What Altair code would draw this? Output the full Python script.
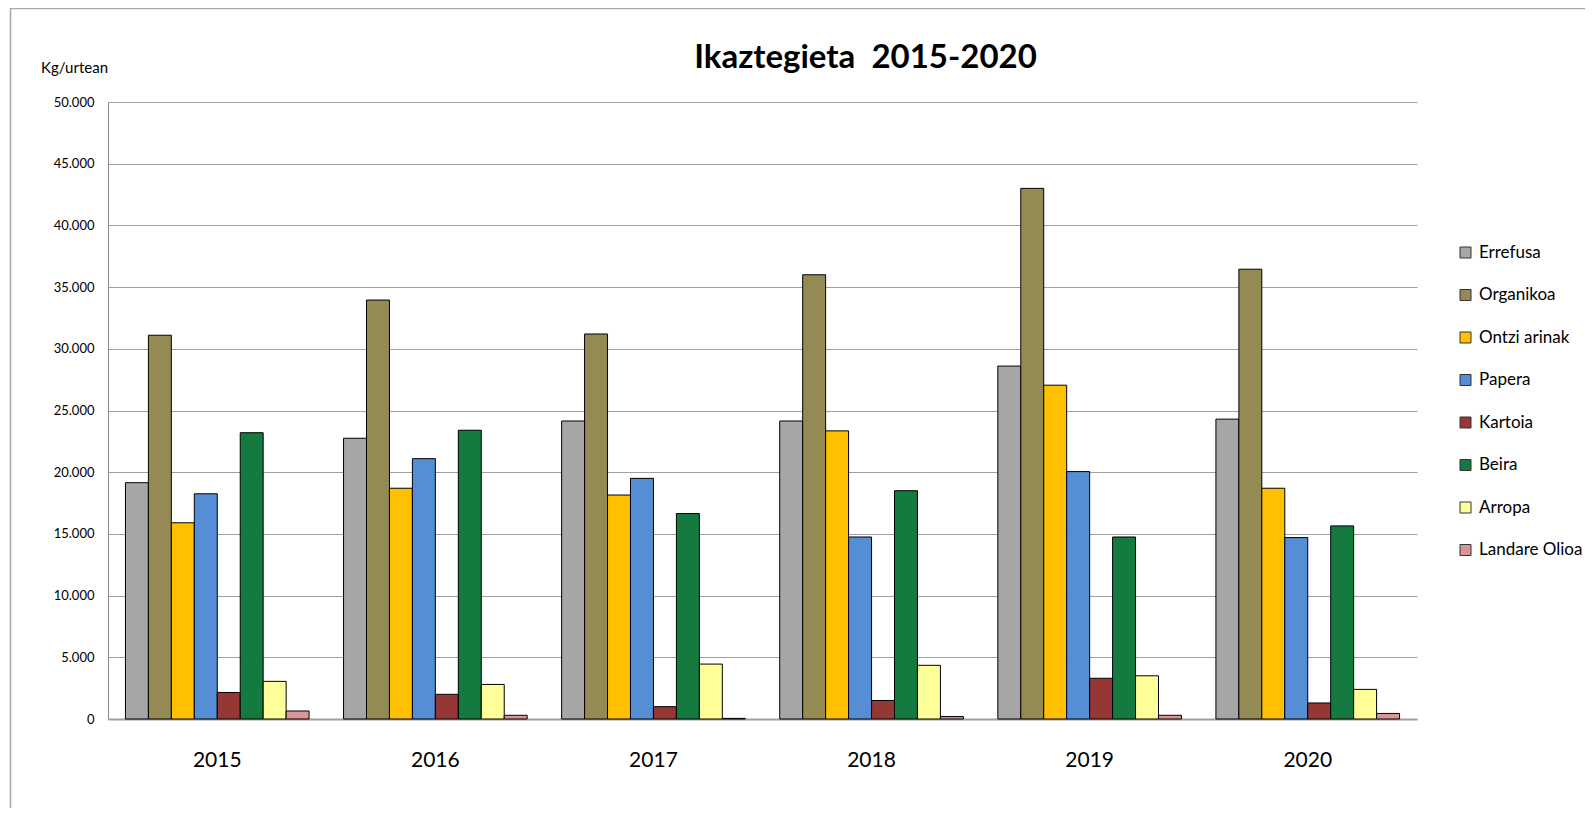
import altair as alt
import pandas as pd

years = ["2015", "2016", "2017", "2018", "2019", "2020"]
series = ["Errefusa", "Organikoa", "Ontzi arinak", "Papera", "Kartoia", "Beira", "Arropa", "Landare Olioa"]
colors = ["#A6A6A6", "#948A54", "#FFC000", "#558ED5", "#953735", "#157A3F", "#FFFF99", "#D99694"]

errefusa = [19150, 22750, 24150, 24150, 28600, 24300]
organikoa = [31100, 33950, 31200, 36000, 43000, 36450]
ontzi_arinak = [15900, 18700, 18150, 23350, 27050, 18700]
papera = [18250, 21100, 19500, 14750, 20050, 14700]
kartoia = [2150, 2000, 1000, 1500, 3300, 1300]
beira = [23200, 23400, 16650, 18500, 14750, 15650]
arropa = [3050, 2800, 4450, 4350, 3500, 2400]
landare_olioa = [650, 300, 50, 200, 300, 450]

values = [errefusa, organikoa, ontzi_arinak, papera, kartoia, beira, arropa, landare_olioa]
rows = []
for s, vals in zip(series, values):
    for y, v in zip(years, vals):
        rows.append({"Urtea": y, "Mota": s, "Kg": v})
df = pd.DataFrame(rows)

FONT = "Lato"

bars = alt.Chart(df).mark_bar(stroke="#000000", strokeWidth=1).encode(
    x=alt.X("Urtea:N", sort=years,
            scale=alt.Scale(paddingInner=0.158, paddingOuter=0.08),
            axis=alt.Axis(title=None, labelAngle=0, ticks=False, grid=False,
                          domainColor="#A0A0A0", domainWidth=2,
                          labelFontSize=21, labelColor="#000000", labelFont=FONT,
                          labelBaseline="middle", labelPadding=41)),
    xOffset=alt.XOffset("Mota:N", sort=series, scale=alt.Scale(paddingInner=0, paddingOuter=0)),
    y=alt.Y("Kg:Q", scale=alt.Scale(domain=[0, 50000], nice=False),
            axis=alt.Axis(title="Kg/urtean", titleAngle=0, titleX=-34, titleY=-35,
                          titleAlign="center", titleBaseline="middle",
                          titleFontSize=15, titleFontWeight="normal", titleFont=FONT,
                          titleColor="#000000",
                          values=list(range(0, 50001, 5000)),
                          labelExpr="replace(format(datum.value, ',.0f'), ',', '.')",
                          ticks=False, labelPadding=14, labelFontSize=13, labelFont=FONT,
                          labelColor="#000000", domainColor="#888888", domainWidth=1,
                          gridColor="#A0A0A0", gridWidth=1)),
    fill=alt.Fill("Mota:N", sort=series,
                  scale=alt.Scale(domain=series, range=colors),
                  legend=alt.Legend(title=None, orient="none", legendX=1349, legendY=142,
                                    symbolType="square", symbolSize=121,
                                    symbolStrokeColor="#333333", symbolStrokeWidth=1,
                                    labelFontSize=17, labelFont=FONT, labelColor="#000000",
                                    labelOffset=5, rowPadding=24.5, padding=0)),
)

frame = alt.Chart(pd.DataFrame({"a": [0]})).mark_rect(
    fill="transparent", stroke="#A6A6A6", strokeWidth=1.5
).encode(
    x=alt.value(-97.5), x2=alt.value(1550), y=alt.value(-93.5), y2=alt.value(800)
)

chart = alt.layer(frame, bars).properties(
    width=1309, height=617,
    padding={"left": 100, "top": 94, "right": 168, "bottom": 89},
    autosize=alt.AutoSizeParams(type="none"),
    title=alt.TitleParams("Ikaztegieta\u00a0 2015-2020", font=FONT, fontSize=33, fontWeight="bold",
                          color="#000000", anchor="middle", frame="group", dx=103,
                          offset=0, baseline="alphabetic", dy=93.5),
).configure_view(stroke=None)

chart.save("out.html", embed_options={"renderer": "svg", "actions": False})
